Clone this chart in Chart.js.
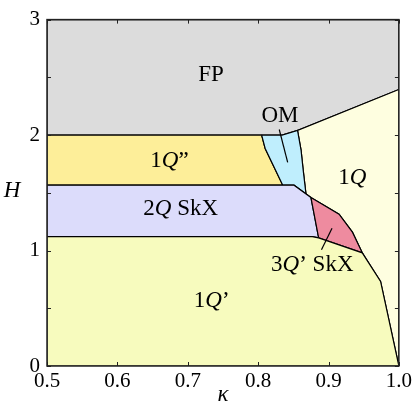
<!DOCTYPE html>
<html>
<head>
<meta charset="utf-8">
<script src="https://cdn.jsdelivr.net/npm/chart.js@4/dist/chart.umd.min.js"></script>
<style>
  html, body { margin: 0; padding: 0; background: #fff; }
  #phase { display: block; }
</style>
</head>
<body>
<canvas id="phase" width="415" height="407"></canvas>
<script>
// phase regions: kappa / H vertices of each closed polygon
const regionNames = ['FP', '1Q', '1Q”', 'OM', '2Q SkX', '3Q’ SkX', '1Q’']
const regionColors = ['#dcdcdc', '#fefee0', '#fdee99', '#bfeefd', '#dcdcfb', '#ee8b9f', '#f7fbbe']
const fpKappa = [0.5, 1.0, 1.0, 0.856, 0.834, 0.805, 0.5]
const fpH = [3.0, 3.0, 2.395, 2.04, 2.0, 2.0, 2.0]
const q1Kappa = [1.0, 0.856, 0.861, 0.864, 0.868, 0.875, 0.915, 0.934, 0.948, 0.974, 1.0]
const q1H = [2.395, 2.04, 1.869, 1.699, 1.49, 1.46, 1.315, 1.159, 0.98, 0.733, 0.0]
const q1ddKappa = [0.5, 0.805, 0.810, 0.835, 0.5]
const q1ddH = [2.0, 2.0, 1.884, 1.566, 1.566]
const omKappa = [0.805, 0.834, 0.856, 0.861, 0.864, 0.868, 0.851, 0.835, 0.810]
const omH = [2.0, 2.0, 2.04, 1.869, 1.699, 1.49, 1.566, 1.566, 1.884]
const skx2Kappa = [0.5, 0.851, 0.875, 0.886, 0.877, 0.5]
const skx2H = [1.566, 1.566, 1.46, 1.11, 1.12, 1.12]
const skx3Kappa = [0.875, 0.915, 0.934, 0.948, 0.886]
const skx3H = [1.46, 1.315, 1.159, 0.98, 1.11]
const q1pKappa = [0.5, 0.877, 0.886, 0.948, 0.974, 1.0, 0.5]
const q1pH = [1.12, 1.12, 1.11, 0.98, 0.733, 0.0, 0.0]

// leader lines from labels to small regions
const omLeaderKappa = [0.830, 0.842]
const omLeaderH = [2.048, 1.764]
const skx3LeaderKappa = [0.905, 0.890]
const skx3LeaderH = [1.193, 1.006]

// region labels (Q is set in italics)
const labelText = ['FP', 'OM', '1Q”', '1Q', '2Q SkX', '3Q’ SkX', '1Q’']
const labelKappa = [0.733, 0.831, 0.674, 0.934, 0.690, 0.877, 0.734]
const labelH = [2.523, 2.165, 1.773, 1.628, 1.364, 0.878, 0.563]

const xTicks = [0.5, 0.6, 0.7, 0.8, 0.9, 1.0]
const yTicks = [0, 0.5, 1, 1.5, 2, 2.5, 3]

const SERIF = '"Liberation Serif", "Times New Roman", serif'

const zip = (xs, ys) => xs.map((x, i) => ({ x: x, y: ys[i] }))

const polys = [
  zip(fpKappa, fpH), zip(q1Kappa, q1H), zip(q1ddKappa, q1ddH), zip(omKappa, omH),
  zip(skx2Kappa, skx2H), zip(skx3Kappa, skx3H), zip(q1pKappa, q1pH)
]

// chart.js paints lower "order" last, so give polygons increasing order
const datasets = polys.map((pts, i) => ({
  label: regionNames[i],
  data: pts.concat([pts[0]]),
  order: 10 - i,
  showLine: true,
  fill: 'shape',
  backgroundColor: regionColors[i],
  borderColor: '#000',
  borderWidth: 1.2,
  pointRadius: 0,
  tension: 0,
}))
;[zip(omLeaderKappa, omLeaderH), zip(skx3LeaderKappa, skx3LeaderH)].forEach((pts) => {
  datasets.push({ data: pts, order: 0, showLine: true, fill: false, borderColor: '#000', borderWidth: 1.2, pointRadius: 0 })
})

// draw text with italic Q
function drawMixed(ctx, text, cx, cy, size) {
  const parts = text.split(/(Q)/).filter((p) => p.length)
  const fontOf = (p) => (p === 'Q' ? 'italic ' : '') + size + 'px ' + SERIF
  let w = 0
  parts.forEach((p) => { ctx.font = fontOf(p); w += ctx.measureText(p).width })
  let x = cx - w / 2
  parts.forEach((p) => {
    ctx.font = fontOf(p)
    ctx.fillText(p, x, cy)
    x += ctx.measureText(p).width
  })
}

const decorations = {
  id: 'decorations',
  afterDatasetsDraw(chart) {
    const ctx = chart.ctx
    const xs = chart.scales.x
    const ys = chart.scales.y
    const a = chart.chartArea
    ctx.save()
    ctx.fillStyle = '#000'
    ctx.textBaseline = 'middle'
    ctx.textAlign = 'left'
    labelText.forEach((t, i) => {
      drawMixed(ctx, t, xs.getPixelForValue(labelKappa[i]), ys.getPixelForValue(labelH[i]), 23)
    })
    // inward ticks on all four sides
    ctx.strokeStyle = '#222'
    ctx.lineWidth = 1
    const tl = 4
    ctx.beginPath()
    xTicks.forEach((v) => {
      const px = Math.round(xs.getPixelForValue(v)) + 0.5
      ctx.moveTo(px, a.bottom); ctx.lineTo(px, a.bottom - tl)
      ctx.moveTo(px, a.top); ctx.lineTo(px, a.top + tl)
    })
    yTicks.forEach((v) => {
      const py = Math.round(ys.getPixelForValue(v)) + 0.5
      ctx.moveTo(a.left, py); ctx.lineTo(a.left + tl, py)
      ctx.moveTo(a.right, py); ctx.lineTo(a.right - tl, py)
    })
    ctx.stroke()
    // frame
    ctx.strokeStyle = '#222'
    ctx.lineWidth = 1.5
    ctx.strokeRect(a.left, a.top, a.right - a.left, a.bottom - a.top)
    // axis titles
    ctx.textAlign = 'center'
    ctx.font = 'italic 23px ' + SERIF
    ctx.fillText('H', 12, ys.getPixelForValue(1.5) - 2)
    ctx.fillText('κ', (a.left + a.right) / 2, 395)
    ctx.restore()
  },
}

new Chart(document.getElementById('phase'), {
  type: 'scatter',
  data: { datasets: datasets },
  options: {
    responsive: false,
    devicePixelRatio: 1,
    animation: false,
    layout: { padding: { top: 14, right: 15, left: 0, bottom: 0 } },
    plugins: { legend: { display: false }, tooltip: { enabled: false } },
    scales: {
      x: {
        type: 'linear',
        min: 0.5,
        max: 1.0,
        afterBuildTicks: (s) => { s.ticks = xTicks.map((v) => ({ value: v })) },
        afterFit: (s) => { s.height = 41 },
        grid: { display: false, drawTicks: false },
        border: { display: false },
        ticks: {
          color: '#000',
          padding: 3,
          maxRotation: 0,
          autoSkip: false,
          font: { family: SERIF, size: 21 },
          callback: (v) => Number(v).toFixed(1),
        },
      },
      y: {
        type: 'linear',
        min: 0,
        max: 3,
        afterBuildTicks: (s) => { s.ticks = yTicks.map((v) => ({ value: v })) },
        afterFit: (s) => { s.width = 47 },
        grid: { display: false, drawTicks: false },
        border: { display: false },
        ticks: {
          color: '#000',
          padding: 7,
          autoSkip: false,
          font: { family: SERIF, size: 21 },
          callback: (v) => (Number.isInteger(v) ? String(v) : ''),
        },
      },
    },
  },
  plugins: [decorations],
})
</script>
</body>
</html>
